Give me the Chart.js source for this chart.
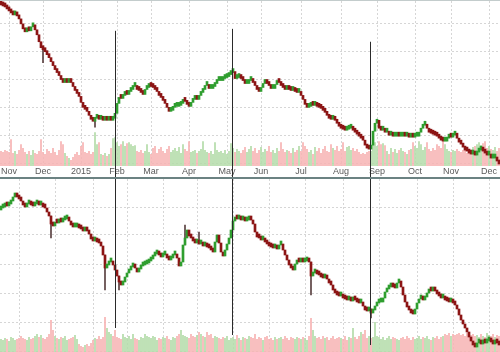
<!DOCTYPE html>
<html>
<head>
<meta charset="utf-8">
<script src="https://cdn.jsdelivr.net/npm/chart.js@4"></script>
<style>
  html, body { margin: 0; padding: 0; background: #fff; }
  #wrap { width: 500px; height: 352px; overflow: hidden; }
  #topPanel { border-top: 1px solid #c3cccc; height: 176px; }
  .sep { height: 2px; background: #6b8282; }
  canvas { display: block; }
</style>
</head>
<body>
<div id="wrap">
  <div id="topPanel"><canvas id="topChart" width="500" height="176"></canvas></div>
  <div class="sep"></div>
  <canvas id="bottomChart" width="500" height="173"></canvas>
</div>
<script>
// daily closes, one per candle (open = previous close)
const topOpen0 = 197;
const topClose = [
  195,194,193,191,189,187,185,186,184,181, 176,171,168,170,169,173,175,170,165,158,
  152,150,148,145,142,138,134,130,127,124, 120,117,119,117,119,117,113,109,106,103,
  97,92,90,88,84,80,78,81,82,80, 81,79,80,79,80,79,81,86,96,102,
  101,104,107,105,108,110,113,113,110,109, 107,105,110,112,114,113,112,110,108,104,
  102,99,96,92,88,89,92,93,93,94, 96,99,98,95,93,97,100,102,100,104,
  107,110,114,114,111,111,113,116,119,119, 119,121,122,123,125,127,128,121,122,123,
  121,119,116,116,119,119,117,114,110,108, 112,116,118,116,114,111,111,115,118,117,
  114,112,110,111,110,109,109,108,107,107, 104,100,95,92,93,95,94,94,93,92,
  91,89,87,84,81,80,81,79,76,73, 71,70,69,70,71,71,69,67,65,63,
  61,59,54,51,50,54,68,76,79,71, 69,71,67,67,64,65,63,63,65,63,
  63,64,63,63,62,63,62,63,63,67, 71,74,75,71,67,66,65,64,63,61,
  59,58,58,61,63,62,64,66,61,57, 55,52,49,48,46,45,45,44,47,49,
  49,48,46,44,44,41,41,42,38,35
];
const topVolume = [
  15,14,16,15,14,27,13,15,12,16, 22,18,14,12,15,11,16,13,12,15,
  27,14,12,17,15,13,18,14,11,16, 25,22,13,10,8,6,9,12,14,11,
  20,24,14,13,15,12,14,34,22,24, 12,11,13,10,12,18,28,29,24,20,
  22,25,20,23,24,22,20,21,15,14, 16,13,15,22,14,12,18,20,13,17,
  19,15,13,17,20,14,16,18,15,19, 13,22,17,15,25,14,15,16,13,15,
  17,25,16,14,13,15,12,24,16,14, 15,13,16,12,15,23,18,14,17,15,
  13,16,19,14,17,20,15,18,13,16, 19,14,17,15,20,14,16,13,18,15,
  24,17,14,16,15,13,18,14,16,20, 15,24,20,17,14,16,12,19,15,18,
  13,17,20,15,14,22,18,16,20,15, 17,24,15,19,20,16,18,15,17,14,
  12,13,12,14,15,15,29,24,20,25, 22,23,21,15,12,18,14,17,13,16,
  18,15,14,12,16,17,24,20,18,25, 22,16,19,24,17,15,18,16,22,20,
  18,25,22,17,15,14,16,15,17,15, 14,16,18,13,17,15,19,20,22,24,
  21,23,25,18,20,17,16,19,15,18
];
const topWicks = [[21, 137], [47, 72]];

const bottomOpen0 = 190;
const bottomClose = [
  192,193,195,194,196,199,203,207,203,201, 199,195,193,196,197,195,194,196,198,195,
  197,193,192,188,184,176,174,178,177,179, 178,180,181,182,179,175,173,173,174,172,
  171,169,170,169,166,161,159,159,158,157, 154,145,132,135,138,138,135,130,124,118,
  115,118,123,127,130,133,135,132,128,131, 134,135,136,137,139,141,144,146,148,145,
  143,145,145,142,140,142,145,146,142,134, 138,155,162,170,164,162,159,157,159,156,
  157,154,155,153,152,150,148,158,165,157, 148,144,150,156,162,170,179,182,181,182,
  180,181,179,180,182,180,176,168,163,162, 160,162,158,156,154,153,152,153,151,155,
  156,150,145,140,135,132,130,136,139,138, 140,138,139,140,138,124,127,128,126,125,
  123,122,124,121,117,115,110,107,105,104, 106,102,101,100,101,99,103,100,98,97,
  98,94,90,89,91,87,90,94,97,98, 98,102,108,111,113,115,113,112,117,119,
  113,105,98,93,90,87,86,91,97,101, 102,100,103,107,110,109,112,109,106,104,
  102,102,100,99,98,100,97,95,91,85, 80,76,72,68,63,59,55,53,57,58,
  56,58,57,59,60,58,56,58,57,55
];
const bottomVolume = [
  13,12,14,13,11,15,14,12,13,14, 16,14,13,12,15,13,14,16,18,15,
  17,14,13,15,18,32,22,16,14,13, 15,14,16,12,13,14,15,17,13,8,
  6,5,7,8,6,9,12,14,13,16, 13,15,35,24,20,18,16,22,15,14,
  13,18,15,14,16,13,18,14,13,12, 15,14,18,16,15,14,16,15,12,14,
  13,15,14,16,13,12,15,14,16,18, 22,17,16,15,14,18,16,15,17,20,
  18,16,15,20,17,18,14,16,15,14, 13,15,14,16,12,14,15,13,17,14,
  12,15,14,13,16,15,14,18,13,15, 14,12,15,16,13,14,12,15,13,14,
  15,13,16,14,12,15,14,13,15,14, 13,15,14,12,16,34,22,16,14,15,
  13,16,14,15,12,14,16,13,14,15, 14,13,16,12,15,14,24,15,13,16,
  20,18,22,14,16,14,15,30,16,15, 13,15,12,14,16,13,15,14,13,12,
  14,15,13,16,14,12,15,13,14,16, 13,15,14,16,13,12,15,14,16,13,
  15,16,18,17,19,16,18,17,18,19, 17,18,16,19,18,17,18,16,17,15,
  18,16,15,19,17,16,18,15,17,16
];
const bottomWicks = [[25, 162], [52, 110], [59, 110], [92, 175], [99, 168], [155, 105], [185, 82]];

// axis ticks
const topMonthLabels = ['Nov', 'Dec', '2015', 'Feb', 'Mar', 'Apr', 'May', 'Jun', 'Jul', 'Aug', 'Sep', 'Oct', 'Nov', 'Dec'];
const topMonthIdx = [4, 21, 40, 58, 75, 94, 113, 130, 150, 170, 188, 207, 225, 244];
const bottomGridIdx = [9, 27, 46, 63, 81, 98, 116, 134, 152, 171, 189, 208, 226, 244];
const topPriceGrid = [176, 148, 120, 92, 64, 36];
const bottomPriceGrid = [193, 165, 136, 107, 78, 49];

// event markers running through both panels
const markerIdx = [57.25, 115.5, 184.75];
const markerTop = [169, 171, 158];
const markerBottom = [72, 65, 55];

const UP = '#2f9e2f', DOWN = '#8c1515', WICK = '#5a4040';
const VOL_UP = '#b4dcaa', VOL_DOWN = '#f7b4b4';
const GRID = '#d6d6d6';

const candles = (closes, open0, wicks) => {
  const opens = closes.map((c, i) => i === 0 ? open0 : closes[i - 1]);
  const up = closes.map((c, i) => c >= opens[i]);
  const bodies = closes.map((c, i) => [opens[i], c]);
  const shadows = closes.map(() => null);
  wicks.forEach(([i, w]) => {
    shadows[i] = [Math.min(opens[i], closes[i], w), Math.max(opens[i], closes[i], w)];
  });
  return { up, bodies, shadows };
};

const markerPlugin = {
  id: 'markers',
  afterDatasetsDraw(chart, args, opts) {
    const { ctx, scales: { x, y } } = chart;
    ctx.save();
    ctx.strokeStyle = '#2a2a2a';
    ctx.lineWidth = 1;
    markerIdx.forEach((m, i) => {
      const px = Math.floor(x.getPixelForValue(m)) + 0.5;
      const y0 = opts.from ? y.getPixelForValue(opts.from[i]) : 0;
      const y1 = opts.to ? y.getPixelForValue(opts.to[i]) : chart.height;
      ctx.beginPath();
      ctx.moveTo(px, y0);
      ctx.lineTo(px, y1);
      ctx.stroke();
    });
    ctx.restore();
  }
};

const makeChart = (id, cfg) => {
  const c = candles(cfg.close, cfg.open0, cfg.wicks);
  return new Chart(document.getElementById(id), {
    type: 'bar',
    data: {
      labels: cfg.close.map((_, i) => i),
      datasets: [
        {
          data: c.bodies, yAxisID: 'y', order: 0, grouped: false,
          barPercentage: 1, categoryPercentage: 1, minBarLength: 4,
          backgroundColor: c.up.map(u => u ? UP : DOWN)
        },
        {
          data: c.shadows, yAxisID: 'y', order: 1, grouped: false,
          barThickness: 1, backgroundColor: WICK
        },
        {
          data: cfg.volume, yAxisID: 'vol', order: 2, grouped: false,
          barPercentage: 0.85, categoryPercentage: 1,
          backgroundColor: c.up.map(u => u ? VOL_UP : VOL_DOWN)
        }
      ]
    },
    options: {
      responsive: false,
      animation: false,
      events: [],
      layout: { padding: 0 },
      plugins: {
        legend: { display: false },
        tooltip: { enabled: false },
        markers: cfg.markers
      },
      scales: {
        x: {
          offset: true,
          grid: { offset: false, color: GRID, drawTicks: false },
          border: { display: false, dash: [2, 2] },
          afterBuildTicks: axis => { axis.ticks = cfg.xTicks.map(v => ({ value: v })); },
          ticks: {
            display: !!cfg.xLabels,
            autoSkip: false,
            maxRotation: 0,
            padding: 1,
            color: '#5a5a5a',
            font: { family: 'Arial', size: 9, lineHeight: 1 },
            callback: (v, i) => cfg.xLabels ? cfg.xLabels[i] : ''
          }
        },
        y: {
          min: cfg.yMin, max: cfg.yMax,
          grid: { color: GRID, drawTicks: false },
          border: { display: false, dash: [2, 2] },
          afterBuildTicks: axis => { axis.ticks = cfg.yTicks.map(v => ({ value: v })); },
          ticks: { display: false }
        },
        vol: {
          display: false,
          min: 0, max: cfg.volMax
        }
      }
    },
    plugins: [markerPlugin]
  });
};

makeChart('topChart', {
  close: topClose, open0: topOpen0, wicks: topWicks, volume: topVolume,
  xTicks: topMonthIdx, xLabels: topMonthLabels, yTicks: topPriceGrid,
  yMin: 33, yMax: 199, volMax: 166,
  markers: { from: markerTop }
});

makeChart('bottomChart', {
  close: bottomClose, open0: bottomOpen0, wicks: bottomWicks, volume: bottomVolume,
  xTicks: bottomGridIdx, xLabels: null, yTicks: bottomPriceGrid,
  yMin: 48, yMax: 221, volMax: 173,
  markers: { to: markerBottom }
});
</script>
</body>
</html>
